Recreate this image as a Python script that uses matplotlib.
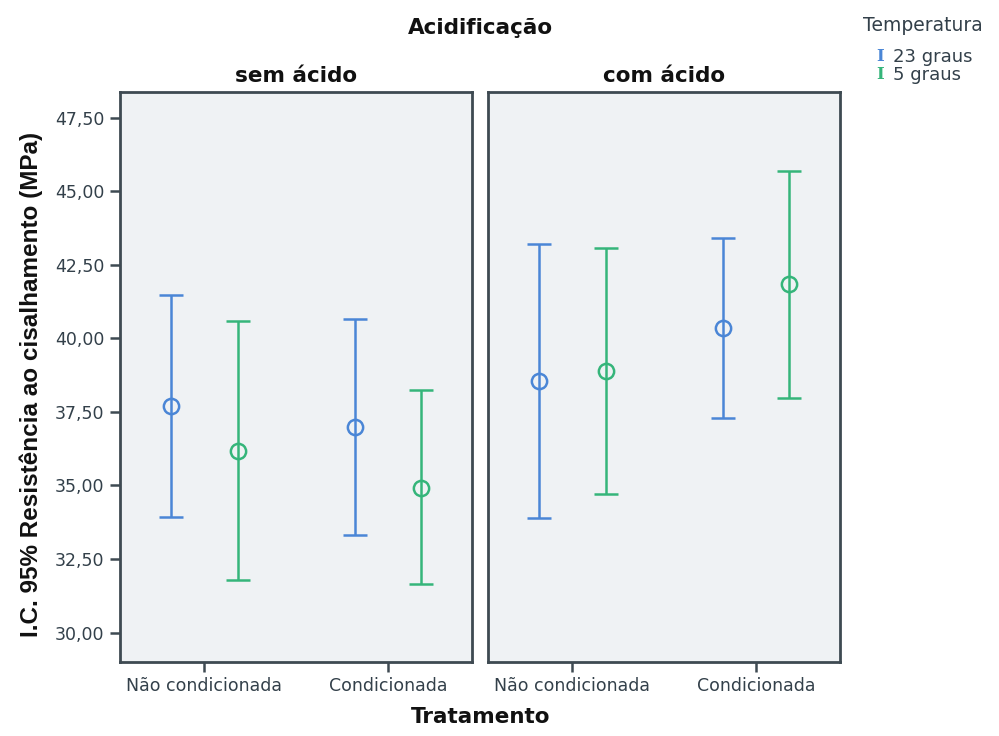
"""Gráfico de barras de erro (IC 95%) da resistência ao cisalhamento."""

import matplotlib

matplotlib.use("Agg")
import matplotlib.pyplot as plt
import numpy as np
from matplotlib.ticker import FuncFormatter

plt.rcParams["font.family"] = ["DejaVu Sans"]

tratamentos = ["Não condicionada", "Condicionada"]
acidificacao = ["sem ácido", "com ácido"]
temperaturas = ["23 graus", "5 graus"]

# médias e limites do IC 95%: [painel][temperatura][tratamento]
media = {
    "sem ácido": {"23 graus": [37.71, 37.00], "5 graus": [36.18, 34.93]},
    "com ácido": {"23 graus": [38.56, 40.36], "5 graus": [38.90, 41.85]},
}
ic_sup = {
    "sem ácido": {"23 graus": [41.48, 40.66], "5 graus": [40.59, 38.25]},
    "com ácido": {"23 graus": [43.21, 43.41], "5 graus": [43.07, 45.69]},
}
ic_inf = {
    "sem ácido": {"23 graus": [33.94, 33.33], "5 graus": [31.80, 31.66]},
    "com ácido": {"23 graus": [33.90, 37.30], "5 graus": [34.72, 37.98]},
}

cores = {"23 graus": "#4a86d6", "5 graus": "#35b57a"}
deslocamento = {"23 graus": -0.18, "5 graus": 0.18}
cor_texto = "#33404a"
cor_eixo = "#3e4a52"

fig = plt.figure(figsize=(9.99, 7.36), dpi=100)
eixos = [
    fig.add_axes([0.120, 0.1005, 0.3525, 0.7745]),
    fig.add_axes([0.4885, 0.1005, 0.352, 0.7745]),
]

x = np.arange(len(tratamentos))
for ax, painel in zip(eixos, acidificacao):
    ax.set_facecolor("#eff2f4")
    for temp in temperaturas:
        m = np.array(media[painel][temp])
        erro = [m - np.array(ic_inf[painel][temp]), np.array(ic_sup[painel][temp]) - m]
        ax.errorbar(
            x + deslocamento[temp], m, yerr=erro, fmt="o", color=cores[temp],
            mfc="none", mec=cores[temp], ms=11, mew=1.8, elinewidth=1.8,
            capsize=8.5, capthick=1.8,
        )
    ax.set_xlim(-0.46, 1.455)
    ax.set_ylim(29.0, 48.37)
    ax.set_xticks(x)
    ax.set_xticklabels(tratamentos)
    ax.set_yticks(np.arange(30, 47.6, 2.5))
    ax.yaxis.set_major_formatter(FuncFormatter(lambda v, _: f"{v:.2f}".replace(".", ",")))
    ax.tick_params(axis="both", direction="out", length=7, width=1.8, color=cor_eixo,
                   labelsize=12.5, labelcolor=cor_texto, pad=4)
    for lado in ax.spines.values():
        lado.set_color(cor_eixo)
        lado.set_linewidth(2)
    ax.set_title(painel, fontsize=15.5, fontweight="bold", color="#111111", pad=7)

eixos[1].tick_params(axis="y", left=False, labelleft=False)

fig.text(0.481, 0.962, "Acidificação", ha="center", va="center",
         fontsize=15.5, fontweight="bold", color="#111111")
fig.text(0.481, 0.026, "Tratamento", ha="center", va="center",
         fontsize=15.5, fontweight="bold", color="#111111")
fig.text(0.031, 0.477, "I.C. 95% Resistência ao cisalhamento (MPa)", ha="center",
         va="center", rotation=90, fontsize=17.5, fontweight="bold", color="#111111",
         family="Liberation Sans")

# legenda de temperatura
fig.text(0.924, 0.966, "Temperatura", ha="center", va="center", fontsize=13.5,
         color=cor_texto)
for i, temp in enumerate(temperaturas):
    yl = 0.923 - i * 0.0245
    fig.text(0.881, yl, "I", ha="center", va="center", fontsize=12,
             color=cores[temp], family="DejaVu Serif", fontweight="bold")
    fig.text(0.894, yl, temp, ha="left", va="center", fontsize=13, color=cor_texto)

fig.savefig("out.png", dpi=100)
